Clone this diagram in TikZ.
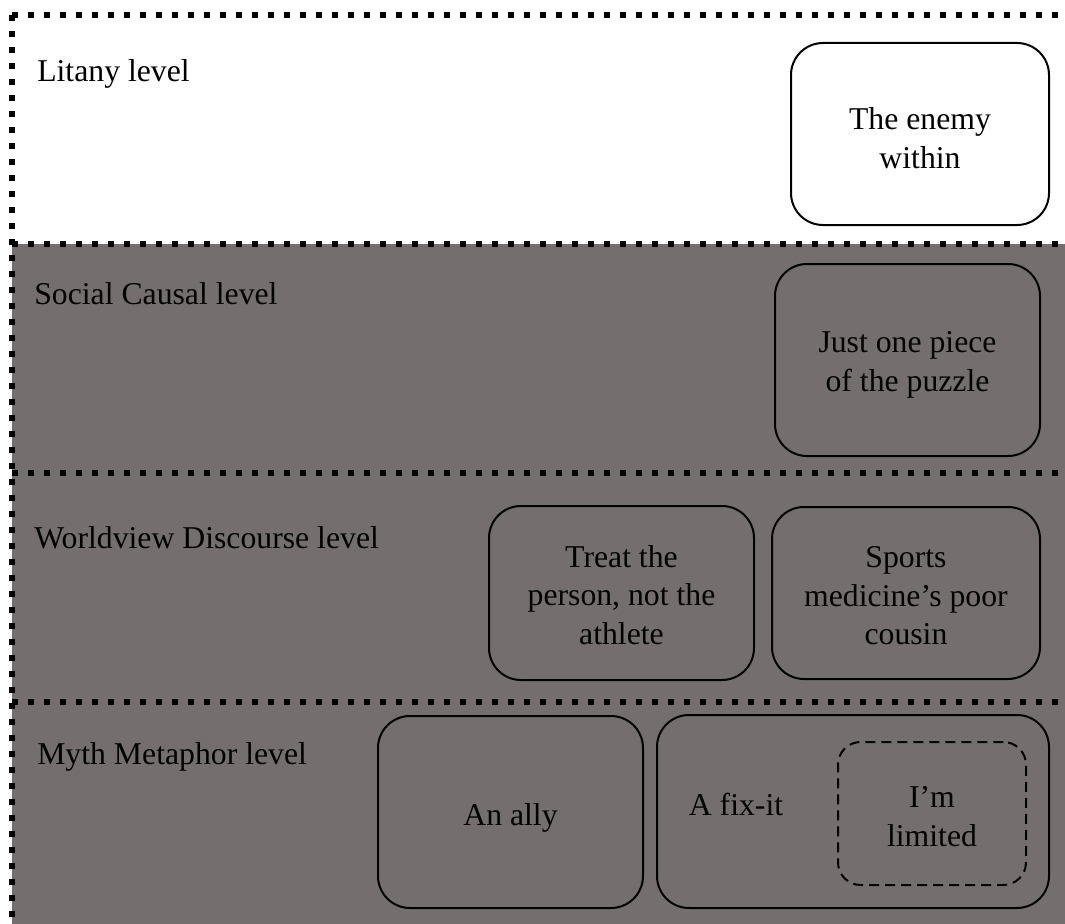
\documentclass[tikz,border=0pt]{standalone}
\usepackage{fontspec}
\setmainfont{Liberation Serif}
\definecolor{bandgray}{RGB}{116,111,110}
\tikzset{
  dotline/.style={line width=4.8pt, dash pattern=on 4.8pt off 7.2pt},
  box/.style={draw=black, line width=1.5pt, rounded corners=24pt, inner sep=0pt},
  dbox/.style={box, dash pattern=on 7.5pt off 4.5pt, rounded corners=17pt},
  boxtext/.style={align=center, inner sep=0pt, font=\fontsize{23.8}{28.9}\selectfont},
  lvl/.style={anchor=base west, inner sep=0pt, font=\fontsize{23.8}{28.9}\selectfont},
  plain/.style={inner sep=0pt, font=\fontsize{23.8}{28.9}\selectfont}
}
\begin{document}
\begin{tikzpicture}[x=0.75pt,y=-0.75pt]
\useasboundingbox (0,0) rectangle (1065,924);
\fill[white] (0,0) rectangle (1065,924);
\fill[bandgray] (12,244) rectangle (1065,924);
% frame and separators
\coordinate (tl) at (12,15);
\coordinate (tr) at (1065,15);
\coordinate (bl) at (12,924);
\coordinate (s1l) at (12,244);  \coordinate (s1r) at (1065,244);
\coordinate (s2l) at (12,473);  \coordinate (s2r) at (1065,473);
\coordinate (s3l) at (12,702);  \coordinate (s3r) at (1065,702);
\draw[dotline] (tl) -- (tr);
\draw[dotline] (tl) -- (bl);
\draw[dotline] (s1l) -- (s1r);
\draw[dotline] (s2l) -- (s2r);
\draw[dotline] (s3l) -- (s3r);
% level labels
\node[lvl] (litany) at (37,82) {Litany level};
\node[lvl] (social) at (34,304) {Social Causal level};
\node[lvl] (world) at (34,548) {Worldview Discourse level};
\node[lvl] (myth) at (37,764) {Myth Metaphor level};
% boxes
\node[box, fill=white, minimum width=193.5pt, minimum height=136.5pt] (enemy) at (920,134) {};
\node[boxtext] (enemyt) at ([yshift=-3pt]enemy.center) {The enemy\\within};
\node[box, minimum width=198.75pt, minimum height=144pt] (puzzle) at (907.5,360) {};
\node[boxtext] (puzzlet) at ([yshift=-3.75pt]puzzle.center) {Just one piece\\of the puzzle};
\node[box, minimum width=198.75pt, minimum height=130.5pt] (treat) at (621.5,593) {};
\node[boxtext] (treatt) at ([yshift=-1.5pt]treat.center) {Treat the\\person, not the\\athlete};
\node[box, minimum width=201pt, minimum height=129pt] (sports) at (906,593) {};
\node[boxtext] (sportst) at ([yshift=-2pt]sports.center) {Sports\\medicine’s poor\\cousin};
\node[box, minimum width=198.75pt, minimum height=144pt] (ally) at (510.5,812) {};
\node[boxtext] (allyt) at ([yshift=-4.5pt]ally.center) {An ally};
\node[box, minimum width=294pt, minimum height=144.75pt] (fixit) at (853,811.5) {};
\node[plain, anchor=base] (fixtext) at (736,815) {A fix-it};
\node[dbox, minimum width=141pt, minimum height=107.25pt] (limited) at (932,813.5) {};
\node[boxtext] (limitedt) at ([yshift=-2.5pt]limited.center) {I’m\\limited};
\end{tikzpicture}
\end{document}
